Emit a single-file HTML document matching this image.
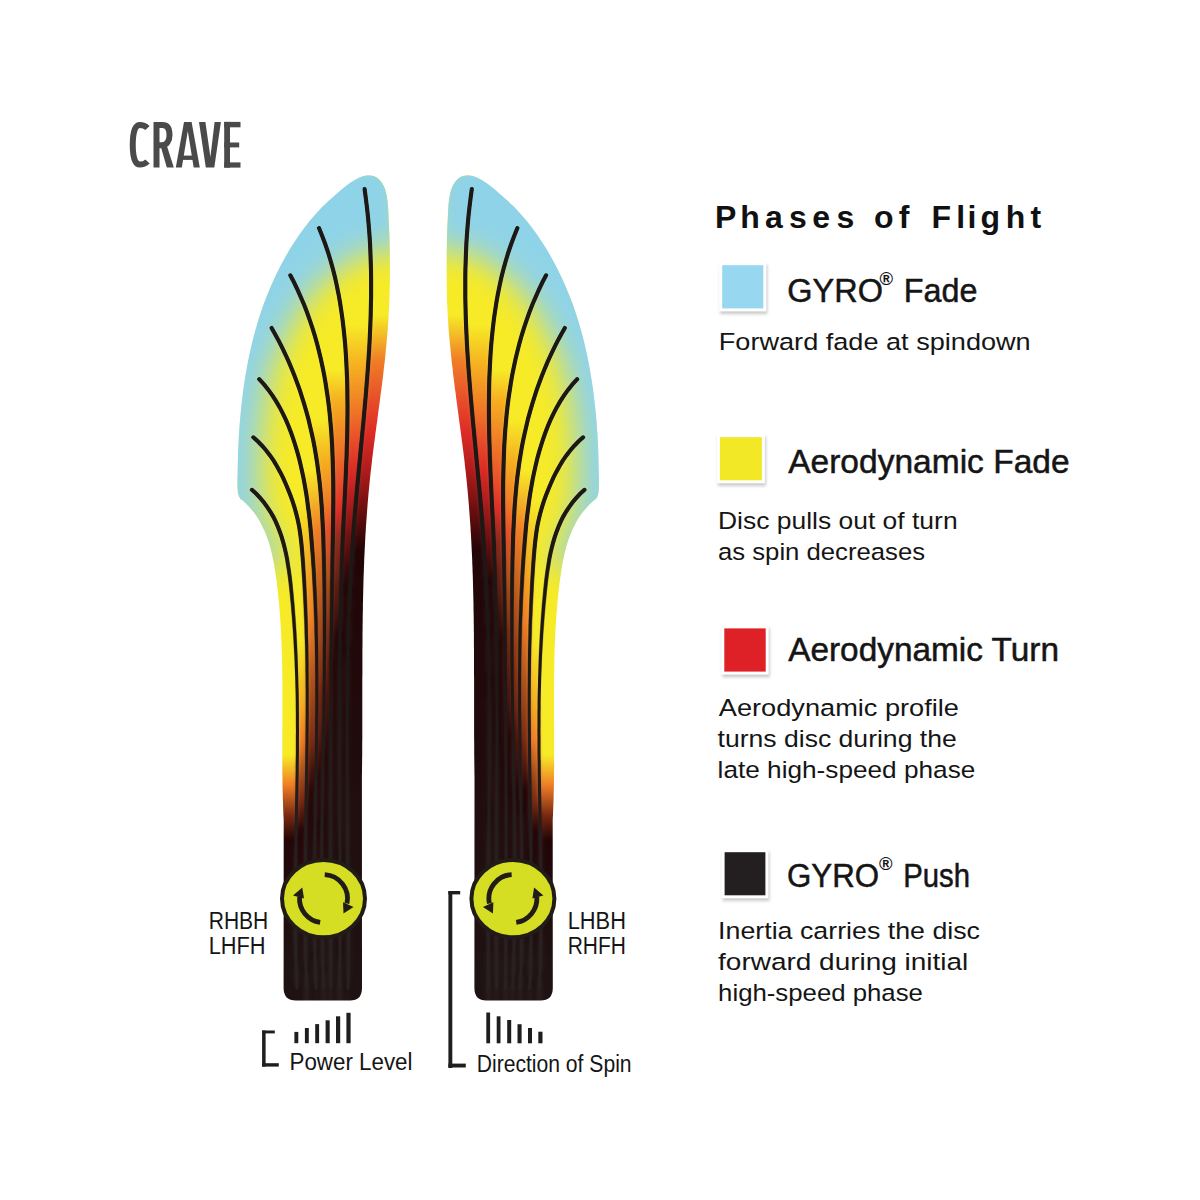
<!DOCTYPE html>
<html><head><meta charset="utf-8">
<style>
html,body{margin:0;padding:0;background:#fff;}
body{width:1200px;height:1200px;overflow:hidden;position:relative;font-family:"Liberation Sans",sans-serif;}
svg{position:absolute;left:0;top:0;}
</style></head>
<body>
<svg width="1200" height="1200" viewBox="0 0 1200 1200">
<defs>
  <clipPath id="clipL"><path d="M362,988 L361.9,780.0 L361.9,775.9 L362.0,771.9 L362.0,767.8 L362.1,763.7 L362.1,759.6 L362.2,755.5 L362.2,751.4 L362.2,747.3 L362.2,743.2 L362.3,739.2 L362.3,735.1 L362.3,731.0 L362.3,726.9 L362.3,722.8 L362.3,718.7 L362.3,714.7 L362.3,710.6 L362.3,706.5 L362.3,702.4 L362.3,698.3 L362.3,694.3 L362.3,690.2 L362.3,686.1 L362.3,682.0 L362.3,677.9 L362.4,673.9 L362.4,669.8 L362.4,665.7 L362.4,661.6 L362.4,657.6 L362.4,653.5 L362.4,649.4 L362.5,645.3 L362.5,641.3 L362.5,637.2 L362.5,633.1 L362.6,629.1 L362.6,625.0 L362.7,620.9 L362.7,616.8 L362.8,612.8 L362.9,608.7 L362.9,604.6 L363.0,600.5 L363.1,596.5 L363.2,592.4 L363.3,588.3 L363.4,584.3 L363.5,580.2 L363.6,576.1 L363.8,572.1 L363.9,568.0 L364.1,563.9 L364.2,559.8 L364.4,555.8 L364.6,551.7 L364.8,547.6 L365.0,543.6 L365.2,539.5 L365.4,535.4 L365.7,531.4 L365.9,527.3 L366.2,523.2 L366.5,519.2 L366.8,515.1 L367.1,511.0 L367.4,506.9 L367.7,502.9 L368.1,498.8 L368.4,494.7 L368.8,490.7 L369.2,486.6 L369.6,482.5 L370.0,478.5 L370.4,474.4 L370.9,470.3 L371.4,466.3 L371.8,462.2 L372.3,458.1 L372.8,454.0 L373.3,450.0 L373.8,445.9 L374.4,441.8 L374.9,437.8 L375.4,433.7 L376.0,429.6 L376.5,425.6 L377.1,421.5 L377.6,417.5 L378.1,413.4 L378.7,409.3 L379.2,405.3 L379.8,401.2 L380.3,397.2 L380.8,393.1 L381.4,389.1 L381.9,385.0 L382.4,381.0 L382.9,376.9 L383.4,372.9 L383.8,368.8 L384.3,364.8 L384.8,360.7 L385.2,356.7 L385.6,352.7 L386.0,348.6 L386.4,344.6 L386.8,340.6 L387.1,336.6 L387.5,332.6 L387.8,328.5 L388.1,324.5 L388.3,320.5 L388.6,316.5 L388.8,312.5 L389.0,308.5 L389.2,304.4 L389.4,300.4 L389.5,296.4 L389.6,292.4 L389.7,288.3 L389.8,284.3 L389.9,280.2 L389.9,276.2 L390.0,272.1 L390.0,268.0 L390.0,263.9 L389.9,259.8 L389.9,255.7 L389.8,251.6 L389.7,247.5 L389.6,243.3 L389.5,239.2 L389.4,235.0 L389.2,230.8 L389.0,226.6 L388.8,222.3 L388.6,218.1 L388.4,213.8 L388.2,209.5 L387.9,205.2 L387.5,201.0 L386.9,196.8 L386.1,192.9 L385.0,189.1 L383.6,185.7 L381.7,182.5 L379.4,179.8 L376.7,177.6 L373.6,176.1 L370.2,175.4 L366.6,175.5 L362.8,176.3 L358.9,177.7 L355.1,179.7 L351.4,181.9 L347.8,184.5 L344.3,187.2 L340.9,190.1 L337.6,192.9 L334.4,195.7 L331.4,198.4 L328.4,201.1 L325.5,203.9 L322.6,206.6 L319.8,209.5 L317.1,212.4 L314.4,215.4 L311.8,218.4 L309.2,221.5 L306.7,224.7 L304.2,228.0 L301.8,231.2 L299.4,234.6 L297.1,237.9 L294.8,241.4 L292.6,244.8 L290.4,248.3 L288.3,251.8 L286.3,255.3 L284.3,258.9 L282.3,262.5 L280.4,266.1 L278.6,269.7 L276.7,273.4 L275.0,277.0 L273.3,280.7 L271.6,284.4 L270.0,288.2 L268.5,291.9 L266.9,295.7 L265.5,299.5 L264.0,303.3 L262.7,307.1 L261.3,311.0 L260.1,314.8 L258.8,318.7 L257.6,322.6 L256.5,326.5 L255.3,330.4 L254.3,334.3 L253.2,338.3 L252.2,342.2 L251.3,346.2 L250.4,350.2 L249.5,354.1 L248.7,358.1 L247.9,362.1 L247.1,366.1 L246.4,370.1 L245.7,374.2 L245.0,378.2 L244.4,382.2 L243.8,386.3 L243.2,390.3 L242.7,394.4 L242.2,398.4 L241.7,402.5 L241.3,406.6 L240.9,410.6 L240.5,414.7 L240.1,418.8 L239.8,422.9 L239.5,427.0 L239.2,431.0 L238.9,435.1 L238.7,439.2 L238.5,443.3 L238.3,447.3 L238.1,451.4 L238.0,455.5 L237.9,459.6 L237.8,463.6 L237.7,467.7 L237.6,471.7 L237.5,475.8 L237.5,479.8 L237.5,483.9 L237.6,488.0 L237.9,492.5 L239.0,496.5 L240.5,499.0 L242.5,500.2 L246.8,504.2 L250.7,508.4 L254.2,512.8 L257.4,517.3 L260.2,522.0 L262.7,526.9 L265.0,531.8 L267.0,536.9 L268.8,542.1 L270.4,547.4 L271.7,552.8 L272.9,558.2 L274.0,563.7 L274.9,569.2 L275.7,574.8 L276.5,580.3 L277.2,585.9 L277.8,591.5 L278.4,597.0 L279.0,602.6 L279.4,608.2 L279.9,613.8 L280.3,619.3 L280.6,624.9 L281.0,630.5 L281.2,636.0 L281.5,641.6 L281.7,647.2 L281.9,652.8 L282.0,658.4 L282.1,663.9 L282.2,669.5 L282.3,675.1 L282.4,680.7 L282.4,686.2 L282.4,691.8 L282.4,697.4 L282.4,703.0 L282.4,708.6 L282.4,714.1 L282.4,719.7 L282.4,725.3 L282.3,730.9 L282.3,736.4 L282.3,742.0 L282.3,747.6 L282.3,753.2 L282.3,758.7 L282.3,764.3 L282.3,769.9 L282.4,775.4 L282.5,781.0 L282.5,786.6 L282.7,792.2 L282.8,797.7 L283.0,803.3 L283.2,808.8 L283.4,814.4 L283.7,820.0 L283.6,988 Q283.6,1000.5 296,1000.5 L350,1000.5 Q362,1000.5 362,988 Z"/></clipPath>
  <linearGradient id="Lg0" gradientUnits="userSpaceOnUse" x1="0" y1="170" x2="0" y2="1000"><stop offset="0.1747" stop-color="#f7eb27"/><stop offset="0.2289" stop-color="#f07e26"/><stop offset="0.2747" stop-color="#e8502a"/><stop offset="0.3157" stop-color="#dd2c26"/><stop offset="0.3614" stop-color="#b01c1c"/><stop offset="0.4096" stop-color="#6b0e0e"/><stop offset="0.4578" stop-color="#220507"/><stop offset="0.9518" stop-color="#1f1212"/></linearGradient><linearGradient id="Lg1" gradientUnits="userSpaceOnUse" x1="0" y1="170" x2="0" y2="1000"><stop offset="0.1867" stop-color="#f7eb27"/><stop offset="0.2349" stop-color="#f5b020"/><stop offset="0.2831" stop-color="#f07e26"/><stop offset="0.3229" stop-color="#e8502a"/><stop offset="0.3590" stop-color="#dd2c26"/><stop offset="0.3976" stop-color="#b01c1c"/><stop offset="0.4458" stop-color="#6b0e0e"/><stop offset="0.4940" stop-color="#220507"/><stop offset="0.9518" stop-color="#1f1212"/></linearGradient><linearGradient id="Lg2" gradientUnits="userSpaceOnUse" x1="0" y1="170" x2="0" y2="1000"><stop offset="0.2410" stop-color="#f7eb27"/><stop offset="0.2771" stop-color="#f5b020"/><stop offset="0.3253" stop-color="#f07e26"/><stop offset="0.3735" stop-color="#e8502a"/><stop offset="0.4096" stop-color="#dd2c26"/><stop offset="0.4458" stop-color="#8a2a1a"/><stop offset="0.5060" stop-color="#5a1a10"/><stop offset="0.5663" stop-color="#220507"/><stop offset="0.9518" stop-color="#1f1212"/></linearGradient><linearGradient id="Lg3" gradientUnits="userSpaceOnUse" x1="0" y1="170" x2="0" y2="1000"><stop offset="0.3012" stop-color="#f7eb27"/><stop offset="0.3494" stop-color="#f5b020"/><stop offset="0.3976" stop-color="#f07e26"/><stop offset="0.4337" stop-color="#e8502a"/><stop offset="0.4880" stop-color="#b0501a"/><stop offset="0.5542" stop-color="#7a2a10"/><stop offset="0.6265" stop-color="#4a1008"/><stop offset="0.6867" stop-color="#220507"/><stop offset="0.9518" stop-color="#1f1212"/></linearGradient><linearGradient id="Lg4" gradientUnits="userSpaceOnUse" x1="0" y1="170" x2="0" y2="1000"><stop offset="0.3614" stop-color="#f7eb27"/><stop offset="0.4337" stop-color="#f07e26"/><stop offset="0.5301" stop-color="#b0501a"/><stop offset="0.6145" stop-color="#7a2a10"/><stop offset="0.6867" stop-color="#4a1008"/><stop offset="0.7349" stop-color="#220507"/><stop offset="0.9518" stop-color="#1f1212"/></linearGradient><linearGradient id="Lg5" gradientUnits="userSpaceOnUse" x1="0" y1="170" x2="0" y2="1000"><stop offset="0.3976" stop-color="#f7eb27"/><stop offset="0.4699" stop-color="#f5b020"/><stop offset="0.5422" stop-color="#f07e26"/><stop offset="0.6145" stop-color="#b0501a"/><stop offset="0.6867" stop-color="#7a2a10"/><stop offset="0.7470" stop-color="#220507"/><stop offset="0.9518" stop-color="#1f1212"/></linearGradient><linearGradient id="Lg6" gradientUnits="userSpaceOnUse" x1="0" y1="170" x2="0" y2="1000"><stop offset="0.5663" stop-color="#f7eb27"/><stop offset="0.6386" stop-color="#f5b020"/><stop offset="0.6867" stop-color="#f07e26"/><stop offset="0.7229" stop-color="#b0501a"/><stop offset="0.7590" stop-color="#7a2a10"/><stop offset="0.7952" stop-color="#220507"/><stop offset="0.9518" stop-color="#1f1212"/></linearGradient><linearGradient id="Lg7" gradientUnits="userSpaceOnUse" x1="0" y1="170" x2="0" y2="1000"><stop offset="0.7048" stop-color="#f7eb27"/><stop offset="0.7410" stop-color="#f07e26"/><stop offset="0.7771" stop-color="#7a2a10"/><stop offset="0.8072" stop-color="#220507"/><stop offset="0.9518" stop-color="#1f1212"/></linearGradient>
  <linearGradient id="lmg" gradientUnits="userSpaceOnUse" x1="0" y1="540" x2="0" y2="680"><stop offset="0" stop-color="#fff"/><stop offset="1" stop-color="#000"/></linearGradient>
  <mask id="lm" maskUnits="userSpaceOnUse" x="0" y="0" width="1200" height="1200"><rect x="0" y="0" width="1200" height="1200" fill="url(#lmg)"/></mask>
  <linearGradient id="lg" gradientUnits="userSpaceOnUse" x1="0" y1="170" x2="0" y2="1000"><stop offset="0.6" stop-color="#1e1815"/><stop offset="0.9" stop-color="#292121"/></linearGradient>
  <filter id="b2" color-interpolation-filters="sRGB" x="-10%" y="-10%" width="120%" height="120%"><feGaussianBlur stdDeviation="2"/></filter>
  <filter id="b12" color-interpolation-filters="sRGB" x="-50%" y="-50%" width="200%" height="200%"><feGaussianBlur stdDeviation="15"/></filter>
  <filter id="sh" color-interpolation-filters="sRGB" x="-30%" y="-30%" width="160%" height="160%"><feDropShadow dx="1" dy="2.5" stdDeviation="1.6" flood-color="#000" flood-opacity="0.22"/></filter>
</defs>
<g id="left">
  <g clip-path="url(#clipL)">
    <g filter="url(#b2)"><polygon points="362.0,176.0 364.6,189.1 365.8,198.1 366.9,207.0 367.9,216.0 368.7,225.0 369.4,233.9 370.0,242.9 370.4,251.9 370.7,260.8 371.0,269.8 371.1,278.8 371.1,287.7 371.1,296.7 370.9,305.6 370.7,314.6 370.4,323.6 370.0,332.5 369.6,341.5 369.1,350.4 368.5,359.4 367.9,368.3 367.2,377.3 366.5,386.3 365.8,395.2 365.0,404.2 364.2,413.1 363.4,422.1 362.5,431.1 361.7,440.0 360.8,449.0 360.0,457.9 359.1,466.9 358.3,475.9 357.4,484.8 356.6,493.8 355.8,502.8 355.0,511.7 354.3,520.7 353.6,529.7 353.0,538.6 352.3,547.6 351.8,556.6 351.2,565.6 350.8,574.5 350.3,583.5 349.9,592.5 349.5,601.5 349.1,610.4 348.8,619.4 348.5,628.4 348.3,637.4 348.1,646.4 347.9,655.3 347.7,664.3 347.5,673.3 347.4,682.3 347.3,691.3 347.2,700.3 347.1,709.3 347.1,718.2 347.1,727.2 347.1,736.2 347.1,745.2 347.1,754.2 347.1,763.2 347.1,772.2 347.2,781.2 347.2,790.2 347.3,799.2 347.4,808.1 347.4,817.1 347.5,826.1 347.6,835.1 347.7,844.1 347.8,853.1 347.8,862.1 347.9,871.1 348.0,880.1 348.0,889.1 348.1,898.1 348.2,907.1 348.2,916.1 348.2,925.1 348.2,934.1 348.3,943.0 348.2,952.0 348.2,961.0 348.2,970.0 348.1,979.0 348.0,988.0 347.8,1012.0 420.0,1010.0 420.0,160.0 362.0,160.0" fill="url(#Lg0)"/>
<polygon points="362.0,176.0 364.6,189.1 365.8,198.1 366.9,207.0 367.9,216.0 368.7,225.0 369.4,233.9 370.0,242.9 370.4,251.9 370.7,260.8 371.0,269.8 371.1,278.8 371.1,287.7 371.1,296.7 370.9,305.6 370.7,314.6 370.4,323.6 370.0,332.5 369.6,341.5 369.1,350.4 368.5,359.4 367.9,368.3 367.2,377.3 366.5,386.3 365.8,395.2 365.0,404.2 364.2,413.1 363.4,422.1 362.5,431.1 361.7,440.0 360.8,449.0 360.0,457.9 359.1,466.9 358.3,475.9 357.4,484.8 356.6,493.8 355.8,502.8 355.0,511.7 354.3,520.7 353.6,529.7 353.0,538.6 352.3,547.6 351.8,556.6 351.2,565.6 350.8,574.5 350.3,583.5 349.9,592.5 349.5,601.5 349.1,610.4 348.8,619.4 348.5,628.4 348.3,637.4 348.1,646.4 347.9,655.3 347.7,664.3 347.5,673.3 347.4,682.3 347.3,691.3 347.2,700.3 347.1,709.3 347.1,718.2 347.1,727.2 347.1,736.2 347.1,745.2 347.1,754.2 347.1,763.2 347.1,772.2 347.2,781.2 347.2,790.2 347.3,799.2 347.4,808.1 347.4,817.1 347.5,826.1 347.6,835.1 347.7,844.1 347.8,853.1 347.8,862.1 347.9,871.1 348.0,880.1 348.0,889.1 348.1,898.1 348.2,907.1 348.2,916.1 348.2,925.1 348.2,934.1 348.3,943.0 348.2,952.0 348.2,961.0 348.2,970.0 348.1,979.0 348.0,988.0 347.8,1012.0 339.6,1012.0 339.6,988.0 339.7,979.4 339.8,970.8 339.9,962.2 340.0,953.6 340.0,945.0 340.1,936.4 340.1,927.8 340.1,919.2 340.1,910.6 340.1,902.0 340.1,893.4 340.1,884.9 340.1,876.3 340.1,867.7 340.0,859.1 340.0,850.6 339.9,842.0 339.9,833.4 339.8,824.8 339.8,816.3 339.7,807.7 339.7,799.1 339.6,790.6 339.6,782.0 339.6,773.5 339.5,764.9 339.5,756.3 339.5,747.8 339.4,739.2 339.4,730.7 339.4,722.1 339.4,713.5 339.4,705.0 339.5,696.4 339.5,687.8 339.5,679.3 339.6,670.7 339.7,662.2 339.8,653.6 339.9,645.0 340.0,636.5 340.1,627.9 340.3,619.3 340.5,610.7 340.6,602.2 340.9,593.6 341.1,585.0 341.4,576.4 341.6,567.8 342.0,559.2 342.3,550.7 342.6,542.1 343.0,533.5 343.4,524.9 343.8,516.3 344.3,507.7 344.7,499.1 345.1,490.5 345.5,481.9 345.9,473.3 346.2,464.7 346.6,456.1 346.8,447.5 347.1,438.9 347.3,430.3 347.4,421.7 347.5,413.1 347.5,404.6 347.4,396.0 347.3,387.5 347.1,378.9 346.7,370.4 346.3,361.8 345.8,353.3 345.2,344.8 344.4,336.3 343.5,327.8 342.5,319.3 341.3,310.9 340.0,302.4 338.5,294.0 336.8,285.6 335.0,277.3 332.9,269.0 330.6,260.7 328.1,252.5 325.3,244.3 322.3,236.2 319.0,228.1 314.3,216.0" fill="url(#Lg1)"/>
<polygon points="314.3,216.0 319.0,228.1 322.3,236.2 325.3,244.3 328.1,252.5 330.6,260.7 332.9,269.0 335.0,277.3 336.8,285.6 338.5,294.0 340.0,302.4 341.3,310.9 342.5,319.3 343.5,327.8 344.4,336.3 345.2,344.8 345.8,353.3 346.3,361.8 346.7,370.4 347.1,378.9 347.3,387.5 347.4,396.0 347.5,404.6 347.5,413.1 347.4,421.7 347.3,430.3 347.1,438.9 346.8,447.5 346.6,456.1 346.2,464.7 345.9,473.3 345.5,481.9 345.1,490.5 344.7,499.1 344.3,507.7 343.8,516.3 343.4,524.9 343.0,533.5 342.6,542.1 342.3,550.7 342.0,559.2 341.6,567.8 341.4,576.4 341.1,585.0 340.9,593.6 340.6,602.2 340.5,610.7 340.3,619.3 340.1,627.9 340.0,636.5 339.9,645.0 339.8,653.6 339.7,662.2 339.6,670.7 339.5,679.3 339.5,687.8 339.5,696.4 339.4,705.0 339.4,713.5 339.4,722.1 339.4,730.7 339.4,739.2 339.5,747.8 339.5,756.3 339.5,764.9 339.6,773.5 339.6,782.0 339.6,790.6 339.7,799.1 339.7,807.7 339.8,816.3 339.8,824.8 339.9,833.4 339.9,842.0 340.0,850.6 340.0,859.1 340.1,867.7 340.1,876.3 340.1,884.9 340.1,893.4 340.1,902.0 340.1,910.6 340.1,919.2 340.1,927.8 340.1,936.4 340.0,945.0 340.0,953.6 339.9,962.2 339.8,970.8 339.7,979.4 339.6,988.0 339.6,1012.0 330.7,1012.0 330.8,988.0 330.7,979.9 330.7,971.8 330.7,963.7 330.6,955.6 330.6,947.5 330.6,939.4 330.5,931.4 330.5,923.3 330.5,915.2 330.5,907.1 330.4,899.0 330.4,890.9 330.4,882.9 330.4,874.8 330.4,866.7 330.4,858.6 330.3,850.6 330.3,842.5 330.3,834.4 330.3,826.3 330.3,818.3 330.3,810.2 330.3,802.1 330.4,794.0 330.4,786.0 330.4,777.9 330.4,769.8 330.4,761.8 330.5,753.7 330.5,745.6 330.5,737.5 330.6,729.5 330.6,721.4 330.7,713.3 330.7,705.3 330.8,697.2 330.8,689.1 330.9,681.0 331.0,673.0 331.0,664.9 331.1,656.8 331.2,648.8 331.3,640.7 331.4,632.6 331.5,624.5 331.6,616.4 331.7,608.4 331.8,600.3 331.9,592.2 332.0,584.1 332.2,576.0 332.3,568.0 332.4,559.9 332.6,551.8 332.7,543.7 332.9,535.6 333.0,527.5 333.1,519.4 333.2,511.3 333.3,503.2 333.3,495.2 333.3,487.1 333.2,479.0 333.0,470.9 332.8,462.9 332.5,454.8 332.2,446.7 331.7,438.7 331.2,430.6 330.5,422.6 329.8,414.6 328.9,406.6 327.9,398.5 326.7,390.6 325.5,382.6 324.1,374.6 322.5,366.7 320.8,358.8 318.9,350.9 316.9,343.1 314.7,335.3 312.3,327.6 309.7,319.9 307.0,312.3 304.1,304.7 300.9,297.3 297.6,289.9 294.1,282.5 290.3,275.3 283.5,262.0" fill="url(#Lg2)"/>
<polygon points="283.5,262.0 290.3,275.3 294.1,282.5 297.6,289.9 300.9,297.3 304.1,304.7 307.0,312.3 309.7,319.9 312.3,327.6 314.7,335.3 316.9,343.1 318.9,350.9 320.8,358.8 322.5,366.7 324.1,374.6 325.5,382.6 326.7,390.6 327.9,398.5 328.9,406.6 329.8,414.6 330.5,422.6 331.2,430.6 331.7,438.7 332.2,446.7 332.5,454.8 332.8,462.9 333.0,470.9 333.2,479.0 333.3,487.1 333.3,495.2 333.3,503.2 333.2,511.3 333.1,519.4 333.0,527.5 332.9,535.6 332.7,543.7 332.6,551.8 332.4,559.9 332.3,568.0 332.2,576.0 332.0,584.1 331.9,592.2 331.8,600.3 331.7,608.4 331.6,616.4 331.5,624.5 331.4,632.6 331.3,640.7 331.2,648.8 331.1,656.8 331.0,664.9 331.0,673.0 330.9,681.0 330.8,689.1 330.8,697.2 330.7,705.3 330.7,713.3 330.6,721.4 330.6,729.5 330.5,737.5 330.5,745.6 330.5,753.7 330.4,761.8 330.4,769.8 330.4,777.9 330.4,786.0 330.4,794.0 330.3,802.1 330.3,810.2 330.3,818.3 330.3,826.3 330.3,834.4 330.3,842.5 330.3,850.6 330.4,858.6 330.4,866.7 330.4,874.8 330.4,882.9 330.4,890.9 330.4,899.0 330.5,907.1 330.5,915.2 330.5,923.3 330.5,931.4 330.6,939.4 330.6,947.5 330.6,955.6 330.7,963.7 330.7,971.8 330.7,979.9 330.8,988.0 330.7,1012.0 323.6,1012.0 323.7,988.0 323.4,980.5 323.1,973.0 322.9,965.4 322.6,957.9 322.5,950.4 322.3,942.9 322.1,935.4 322.0,927.9 321.9,920.4 321.8,912.8 321.8,905.3 321.7,897.8 321.7,890.3 321.7,882.8 321.7,875.3 321.7,867.8 321.7,860.3 321.8,852.8 321.8,845.3 321.9,837.8 321.9,830.3 322.0,822.7 322.1,815.2 322.2,807.7 322.3,800.2 322.4,792.7 322.6,785.2 322.7,777.7 322.8,770.2 322.9,762.7 323.0,755.2 323.2,747.7 323.3,740.2 323.4,732.7 323.5,725.2 323.7,717.7 323.8,710.2 323.9,702.7 324.0,695.1 324.1,687.6 324.2,680.1 324.3,672.6 324.3,665.1 324.4,657.6 324.4,650.1 324.5,642.6 324.5,635.1 324.5,627.6 324.5,620.0 324.5,612.5 324.5,605.0 324.4,597.5 324.4,590.0 324.3,582.5 324.2,574.9 324.0,567.4 323.9,559.9 323.7,552.4 323.5,544.9 323.3,537.3 323.0,529.8 322.6,522.3 322.2,514.8 321.8,507.3 321.2,499.8 320.6,492.4 319.9,484.9 319.1,477.5 318.1,470.0 317.1,462.6 315.9,455.2 314.7,447.9 313.3,440.5 311.7,433.2 310.0,425.9 308.3,418.6 306.3,411.4 304.2,404.2 302.0,397.1 299.7,389.9 297.2,382.9 294.5,375.8 291.7,368.8 288.8,361.9 285.7,355.0 282.4,348.2 279.0,341.4 275.4,334.7 271.6,328.0 262.0,305.0" fill="url(#Lg3)"/>
<polygon points="262.0,305.0 271.6,328.0 275.4,334.7 279.0,341.4 282.4,348.2 285.7,355.0 288.8,361.9 291.7,368.8 294.5,375.8 297.2,382.9 299.7,389.9 302.0,397.1 304.2,404.2 306.3,411.4 308.3,418.6 310.0,425.9 311.7,433.2 313.3,440.5 314.7,447.9 315.9,455.2 317.1,462.6 318.1,470.0 319.1,477.5 319.9,484.9 320.6,492.4 321.2,499.8 321.8,507.3 322.2,514.8 322.6,522.3 323.0,529.8 323.3,537.3 323.5,544.9 323.7,552.4 323.9,559.9 324.0,567.4 324.2,574.9 324.3,582.5 324.4,590.0 324.4,597.5 324.5,605.0 324.5,612.5 324.5,620.0 324.5,627.6 324.5,635.1 324.5,642.6 324.4,650.1 324.4,657.6 324.3,665.1 324.3,672.6 324.2,680.1 324.1,687.6 324.0,695.1 323.9,702.7 323.8,710.2 323.7,717.7 323.5,725.2 323.4,732.7 323.3,740.2 323.2,747.7 323.0,755.2 322.9,762.7 322.8,770.2 322.7,777.7 322.6,785.2 322.4,792.7 322.3,800.2 322.2,807.7 322.1,815.2 322.0,822.7 321.9,830.3 321.9,837.8 321.8,845.3 321.8,852.8 321.7,860.3 321.7,867.8 321.7,875.3 321.7,882.8 321.7,890.3 321.7,897.8 321.8,905.3 321.8,912.8 321.9,920.4 322.0,927.9 322.1,935.4 322.3,942.9 322.5,950.4 322.6,957.9 322.9,965.4 323.1,973.0 323.4,980.5 323.7,988.0 323.6,1012.0 316.0,1012.0 316.1,988.0 315.8,981.0 315.5,974.0 315.3,967.1 315.1,960.1 315.0,953.1 314.8,946.1 314.7,939.2 314.6,932.2 314.5,925.2 314.5,918.2 314.4,911.3 314.4,904.3 314.4,897.3 314.4,890.3 314.4,883.4 314.5,876.4 314.5,869.4 314.6,862.4 314.7,855.5 314.7,848.5 314.8,841.5 314.9,834.6 315.0,827.6 315.1,820.6 315.3,813.7 315.4,806.7 315.5,799.7 315.6,792.8 315.7,785.8 315.9,778.8 316.0,771.9 316.1,764.9 316.2,757.9 316.3,751.0 316.4,744.0 316.5,737.0 316.6,730.1 316.6,723.1 316.7,716.1 316.8,709.2 316.8,702.2 316.8,695.3 316.8,688.3 316.8,681.3 316.8,674.4 316.7,667.4 316.7,660.4 316.6,653.5 316.5,646.5 316.4,639.5 316.2,632.6 316.1,625.6 315.9,618.6 315.6,611.7 315.4,604.7 315.1,597.7 314.8,590.8 314.4,583.8 314.1,576.8 313.7,569.9 313.2,562.9 312.8,555.9 312.2,549.0 311.7,542.0 311.1,535.0 310.5,528.0 309.8,521.1 309.0,514.1 308.1,507.2 307.2,500.3 306.2,493.4 305.0,486.5 303.8,479.7 302.4,472.9 300.9,466.1 299.3,459.3 297.5,452.6 295.5,446.0 293.4,439.4 291.1,432.8 288.6,426.3 285.9,419.9 282.9,413.6 279.7,407.4 276.2,401.4 272.5,395.6 268.4,389.9 264.0,384.4 259.2,379.2 249.0,362.0" fill="url(#Lg4)"/>
<polygon points="249.0,362.0 259.2,379.2 264.0,384.4 268.4,389.9 272.5,395.6 276.2,401.4 279.7,407.4 282.9,413.6 285.9,419.9 288.6,426.3 291.1,432.8 293.4,439.4 295.5,446.0 297.5,452.6 299.3,459.3 300.9,466.1 302.4,472.9 303.8,479.7 305.0,486.5 306.2,493.4 307.2,500.3 308.1,507.2 309.0,514.1 309.8,521.1 310.5,528.0 311.1,535.0 311.7,542.0 312.2,549.0 312.8,555.9 313.2,562.9 313.7,569.9 314.1,576.8 314.4,583.8 314.8,590.8 315.1,597.7 315.4,604.7 315.6,611.7 315.9,618.6 316.1,625.6 316.2,632.6 316.4,639.5 316.5,646.5 316.6,653.5 316.7,660.4 316.7,667.4 316.8,674.4 316.8,681.3 316.8,688.3 316.8,695.3 316.8,702.2 316.8,709.2 316.7,716.1 316.6,723.1 316.6,730.1 316.5,737.0 316.4,744.0 316.3,751.0 316.2,757.9 316.1,764.9 316.0,771.9 315.9,778.8 315.7,785.8 315.6,792.8 315.5,799.7 315.4,806.7 315.3,813.7 315.1,820.6 315.0,827.6 314.9,834.6 314.8,841.5 314.7,848.5 314.7,855.5 314.6,862.4 314.5,869.4 314.5,876.4 314.4,883.4 314.4,890.3 314.4,897.3 314.4,904.3 314.4,911.3 314.5,918.2 314.5,925.2 314.6,932.2 314.7,939.2 314.8,946.1 315.0,953.1 315.1,960.1 315.3,967.1 315.5,974.0 315.8,981.0 316.1,988.0 316.0,1012.0 306.6,1012.0 306.6,988.0 306.4,981.7 306.2,975.4 306.0,969.0 305.9,962.7 305.7,956.4 305.6,950.1 305.5,943.7 305.4,937.4 305.3,931.1 305.3,924.7 305.2,918.4 305.2,912.1 305.2,905.7 305.2,899.4 305.2,893.1 305.2,886.7 305.2,880.4 305.3,874.0 305.3,867.7 305.4,861.4 305.4,855.0 305.5,848.7 305.6,842.3 305.7,836.0 305.8,829.6 305.8,823.3 305.9,817.0 306.0,810.6 306.1,804.3 306.2,797.9 306.3,791.6 306.4,785.2 306.5,778.9 306.6,772.5 306.7,766.2 306.8,759.8 306.8,753.5 306.9,747.2 307.0,740.8 307.0,734.5 307.1,728.1 307.1,721.8 307.2,715.4 307.2,709.1 307.2,702.8 307.2,696.4 307.2,690.1 307.1,683.7 307.1,677.4 307.0,671.1 307.0,664.7 306.9,658.4 306.8,652.1 306.7,645.7 306.5,639.4 306.3,633.1 306.2,626.7 306.0,620.4 305.7,614.1 305.5,607.7 305.2,601.4 304.9,595.1 304.6,588.8 304.3,582.5 303.9,576.1 303.5,569.8 303.1,563.5 302.6,557.2 302.1,550.9 301.5,544.6 300.8,538.3 300.0,532.1 299.0,525.8 297.7,519.6 296.2,513.5 294.5,507.4 292.6,501.3 290.4,495.3 288.1,489.4 285.6,483.5 283.0,477.6 280.1,471.9 277.1,466.4 273.8,460.9 270.2,455.7 266.4,450.7 262.3,446.0 258.0,441.5 253.3,437.3 239.3,423.0" fill="url(#Lg5)"/>
<polygon points="239.3,423.0 253.3,437.3 258.0,441.5 262.3,446.0 266.4,450.7 270.2,455.7 273.8,460.9 277.1,466.4 280.1,471.9 283.0,477.6 285.6,483.5 288.1,489.4 290.4,495.3 292.6,501.3 294.5,507.4 296.2,513.5 297.7,519.6 299.0,525.8 300.0,532.1 300.8,538.3 301.5,544.6 302.1,550.9 302.6,557.2 303.1,563.5 303.5,569.8 303.9,576.1 304.3,582.5 304.6,588.8 304.9,595.1 305.2,601.4 305.5,607.7 305.7,614.1 306.0,620.4 306.2,626.7 306.3,633.1 306.5,639.4 306.7,645.7 306.8,652.1 306.9,658.4 307.0,664.7 307.0,671.1 307.1,677.4 307.1,683.7 307.2,690.1 307.2,696.4 307.2,702.8 307.2,709.1 307.2,715.4 307.1,721.8 307.1,728.1 307.0,734.5 307.0,740.8 306.9,747.2 306.8,753.5 306.8,759.8 306.7,766.2 306.6,772.5 306.5,778.9 306.4,785.2 306.3,791.6 306.2,797.9 306.1,804.3 306.0,810.6 305.9,817.0 305.8,823.3 305.8,829.6 305.7,836.0 305.6,842.3 305.5,848.7 305.4,855.0 305.4,861.4 305.3,867.7 305.3,874.0 305.2,880.4 305.2,886.7 305.2,893.1 305.2,899.4 305.2,905.7 305.2,912.1 305.2,918.4 305.3,924.7 305.3,931.1 305.4,937.4 305.5,943.7 305.6,950.1 305.7,956.4 305.9,962.7 306.0,969.0 306.2,975.4 306.4,981.7 306.6,988.0 306.6,1012.0 297.0,1012.0 297.0,988.0 296.8,982.3 296.5,976.5 296.3,970.8 296.1,965.1 296.0,959.3 295.8,953.6 295.7,947.9 295.6,942.2 295.5,936.4 295.4,930.7 295.4,925.0 295.3,919.3 295.3,913.6 295.3,907.8 295.3,902.1 295.3,896.4 295.4,890.7 295.4,885.0 295.5,879.3 295.5,873.6 295.6,867.8 295.7,862.1 295.8,856.4 295.8,850.7 295.9,845.0 296.0,839.3 296.1,833.6 296.2,827.9 296.3,822.2 296.4,816.5 296.5,810.8 296.6,805.1 296.7,799.4 296.8,793.7 296.9,788.0 297.0,782.2 297.1,776.5 297.2,770.8 297.2,765.1 297.3,759.4 297.4,753.7 297.4,748.0 297.4,742.3 297.4,736.6 297.5,730.9 297.4,725.2 297.4,719.5 297.4,713.7 297.3,708.0 297.3,702.3 297.2,696.6 297.1,690.9 296.9,685.2 296.8,679.4 296.6,673.7 296.4,668.0 296.2,662.3 296.0,656.6 295.7,650.8 295.4,645.1 295.1,639.4 294.8,633.6 294.4,627.9 294.0,622.2 293.6,616.4 293.1,610.7 292.7,605.0 292.1,599.2 291.6,593.5 291.0,587.7 290.4,582.0 289.7,576.3 288.9,570.5 288.0,564.9 287.1,559.2 286.0,553.6 284.7,548.1 283.3,542.6 281.7,537.2 279.9,531.9 277.9,526.7 275.7,521.6 273.2,516.6 270.4,511.8 267.3,507.1 264.0,502.5 260.3,498.1 256.3,493.8 251.9,489.8 238.0,477.0" fill="url(#Lg6)"/>
<polygon points="238.0,477.0 251.9,489.8 256.3,493.8 260.3,498.1 264.0,502.5 267.3,507.1 270.4,511.8 273.2,516.6 275.7,521.6 277.9,526.7 279.9,531.9 281.7,537.2 283.3,542.6 284.7,548.1 286.0,553.6 287.1,559.2 288.0,564.9 288.9,570.5 289.7,576.3 290.4,582.0 291.0,587.7 291.6,593.5 292.1,599.2 292.7,605.0 293.1,610.7 293.6,616.4 294.0,622.2 294.4,627.9 294.8,633.6 295.1,639.4 295.4,645.1 295.7,650.8 296.0,656.6 296.2,662.3 296.4,668.0 296.6,673.7 296.8,679.4 296.9,685.2 297.1,690.9 297.2,696.6 297.3,702.3 297.3,708.0 297.4,713.7 297.4,719.5 297.4,725.2 297.5,730.9 297.4,736.6 297.4,742.3 297.4,748.0 297.4,753.7 297.3,759.4 297.2,765.1 297.2,770.8 297.1,776.5 297.0,782.2 296.9,788.0 296.8,793.7 296.7,799.4 296.6,805.1 296.5,810.8 296.4,816.5 296.3,822.2 296.2,827.9 296.1,833.6 296.0,839.3 295.9,845.0 295.8,850.7 295.8,856.4 295.7,862.1 295.6,867.8 295.5,873.6 295.5,879.3 295.4,885.0 295.4,890.7 295.3,896.4 295.3,902.1 295.3,907.8 295.3,913.6 295.3,919.3 295.4,925.0 295.4,930.7 295.5,936.4 295.6,942.2 295.7,947.9 295.8,953.6 296.0,959.3 296.1,965.1 296.3,970.8 296.5,976.5 296.8,982.3 297.0,988.0 297.0,1012.0 200.0,1010.0 200.0,470.0" fill="url(#Lg7)"/></g>
    <path d="M400.0,254.0 C395.3,253.5 379.2,250.2 372.0,251.0 C364.8,251.8 362.8,255.7 357.0,259.0 C351.2,262.3 343.7,266.0 337.0,271.0 C330.3,276.0 323.0,282.5 317.0,289.0 C311.0,295.5 305.8,302.5 301.0,310.0 C296.2,317.5 292.3,325.3 288.0,334.0 C283.7,342.7 278.5,351.8 275.0,362.0 C271.5,372.2 269.2,383.7 267.0,395.0 C264.8,406.3 263.2,418.3 262.0,430.0 C260.8,441.7 260.3,455.0 260.0,465.0 C259.7,475.0 259.3,481.7 260.0,490.0 C260.7,498.3 261.8,506.7 264.0,515.0 C266.2,523.3 269.3,531.7 273.0,540.0 C276.7,548.3 283.8,560.8 286.0,565.0 L200,575 L200,150 L410,150 L410,243 Z" fill="#8fd3e8" filter="url(#b12)"/>
  </g>
  <g fill="none" stroke="url(#lg)" stroke-width="3.1" stroke-linecap="round">
<path d="M364.6,189.1 L365.8,198.1 L366.9,207.0 L367.9,216.0 L368.7,225.0 L369.4,233.9 L370.0,242.9 L370.4,251.9 L370.7,260.8 L371.0,269.8 L371.1,278.8 L371.1,287.7 L371.1,296.7 L370.9,305.6 L370.7,314.6 L370.4,323.6 L370.0,332.5 L369.6,341.5 L369.1,350.4 L368.5,359.4 L367.9,368.3 L367.2,377.3 L366.5,386.3 L365.8,395.2 L365.0,404.2 L364.2,413.1 L363.4,422.1 L362.5,431.1 L361.7,440.0 L360.8,449.0 L360.0,457.9 L359.1,466.9 L358.3,475.9 L357.4,484.8 L356.6,493.8 L355.8,502.8 L355.0,511.7 L354.3,520.7 L353.6,529.7 L353.0,538.6 L352.3,547.6 L351.8,556.6 L351.2,565.6 L350.8,574.5 L350.3,583.5 L349.9,592.5 L349.5,601.5 L349.1,610.4 L348.8,619.4 L348.5,628.4 L348.3,637.4 L348.1,646.4 L347.9,655.3 L347.7,664.3 L347.5,673.3 L347.4,682.3 L347.3,691.3 L347.2,700.3 L347.1,709.3 L347.1,718.2 L347.1,727.2 L347.1,736.2 L347.1,745.2 L347.1,754.2 L347.1,763.2 L347.1,772.2 L347.2,781.2 L347.2,790.2 L347.3,799.2 L347.4,808.1 L347.4,817.1 L347.5,826.1 L347.6,835.1 L347.7,844.1 L347.8,853.1 L347.8,862.1 L347.9,871.1 L348.0,880.1 L348.0,889.1 L348.1,898.1 L348.2,907.1 L348.2,916.1 L348.2,925.1 L348.2,934.1 L348.3,943.0 L348.2,952.0 L348.2,961.0 L348.2,970.0 L348.1,979.0 L348.0,988.0"/>
<path d="M319.0,228.1 L322.3,236.2 L325.3,244.3 L328.1,252.5 L330.6,260.7 L332.9,269.0 L335.0,277.3 L336.8,285.6 L338.5,294.0 L340.0,302.4 L341.3,310.9 L342.5,319.3 L343.5,327.8 L344.4,336.3 L345.2,344.8 L345.8,353.3 L346.3,361.8 L346.7,370.4 L347.1,378.9 L347.3,387.5 L347.4,396.0 L347.5,404.6 L347.5,413.1 L347.4,421.7 L347.3,430.3 L347.1,438.9 L346.8,447.5 L346.6,456.1 L346.2,464.7 L345.9,473.3 L345.5,481.9 L345.1,490.5 L344.7,499.1 L344.3,507.7 L343.8,516.3 L343.4,524.9 L343.0,533.5 L342.6,542.1 L342.3,550.7 L342.0,559.2 L341.6,567.8 L341.4,576.4 L341.1,585.0 L340.9,593.6 L340.6,602.2 L340.5,610.7 L340.3,619.3 L340.1,627.9 L340.0,636.5 L339.9,645.0 L339.8,653.6 L339.7,662.2 L339.6,670.7 L339.5,679.3 L339.5,687.8 L339.5,696.4 L339.4,705.0 L339.4,713.5 L339.4,722.1 L339.4,730.7 L339.4,739.2 L339.5,747.8 L339.5,756.3 L339.5,764.9 L339.6,773.5 L339.6,782.0 L339.6,790.6 L339.7,799.1 L339.7,807.7 L339.8,816.3 L339.8,824.8 L339.9,833.4 L339.9,842.0 L340.0,850.6 L340.0,859.1 L340.1,867.7 L340.1,876.3 L340.1,884.9 L340.1,893.4 L340.1,902.0 L340.1,910.6 L340.1,919.2 L340.1,927.8 L340.1,936.4 L340.0,945.0 L340.0,953.6 L339.9,962.2 L339.8,970.8 L339.7,979.4 L339.6,988.0"/>
<path d="M290.3,275.3 L294.1,282.5 L297.6,289.9 L300.9,297.3 L304.1,304.7 L307.0,312.3 L309.7,319.9 L312.3,327.6 L314.7,335.3 L316.9,343.1 L318.9,350.9 L320.8,358.8 L322.5,366.7 L324.1,374.6 L325.5,382.6 L326.7,390.6 L327.9,398.5 L328.9,406.6 L329.8,414.6 L330.5,422.6 L331.2,430.6 L331.7,438.7 L332.2,446.7 L332.5,454.8 L332.8,462.9 L333.0,470.9 L333.2,479.0 L333.3,487.1 L333.3,495.2 L333.3,503.2 L333.2,511.3 L333.1,519.4 L333.0,527.5 L332.9,535.6 L332.7,543.7 L332.6,551.8 L332.4,559.9 L332.3,568.0 L332.2,576.0 L332.0,584.1 L331.9,592.2 L331.8,600.3 L331.7,608.4 L331.6,616.4 L331.5,624.5 L331.4,632.6 L331.3,640.7 L331.2,648.8 L331.1,656.8 L331.0,664.9 L331.0,673.0 L330.9,681.0 L330.8,689.1 L330.8,697.2 L330.7,705.3 L330.7,713.3 L330.6,721.4 L330.6,729.5 L330.5,737.5 L330.5,745.6 L330.5,753.7 L330.4,761.8 L330.4,769.8 L330.4,777.9 L330.4,786.0 L330.4,794.0 L330.3,802.1 L330.3,810.2 L330.3,818.3 L330.3,826.3 L330.3,834.4 L330.3,842.5 L330.3,850.6 L330.4,858.6 L330.4,866.7 L330.4,874.8 L330.4,882.9 L330.4,890.9 L330.4,899.0 L330.5,907.1 L330.5,915.2 L330.5,923.3 L330.5,931.4 L330.6,939.4 L330.6,947.5 L330.6,955.6 L330.7,963.7 L330.7,971.8 L330.7,979.9 L330.8,988.0"/>
<path d="M271.6,328.0 L275.4,334.7 L279.0,341.4 L282.4,348.2 L285.7,355.0 L288.8,361.9 L291.7,368.8 L294.5,375.8 L297.2,382.9 L299.7,389.9 L302.0,397.1 L304.2,404.2 L306.3,411.4 L308.3,418.6 L310.0,425.9 L311.7,433.2 L313.3,440.5 L314.7,447.9 L315.9,455.2 L317.1,462.6 L318.1,470.0 L319.1,477.5 L319.9,484.9 L320.6,492.4 L321.2,499.8 L321.8,507.3 L322.2,514.8 L322.6,522.3 L323.0,529.8 L323.3,537.3 L323.5,544.9 L323.7,552.4 L323.9,559.9 L324.0,567.4 L324.2,574.9 L324.3,582.5 L324.4,590.0 L324.4,597.5 L324.5,605.0 L324.5,612.5 L324.5,620.0 L324.5,627.6 L324.5,635.1 L324.5,642.6 L324.4,650.1 L324.4,657.6 L324.3,665.1 L324.3,672.6 L324.2,680.1 L324.1,687.6 L324.0,695.1 L323.9,702.7 L323.8,710.2 L323.7,717.7 L323.5,725.2 L323.4,732.7 L323.3,740.2 L323.2,747.7 L323.0,755.2 L322.9,762.7 L322.8,770.2 L322.7,777.7 L322.6,785.2 L322.4,792.7 L322.3,800.2 L322.2,807.7 L322.1,815.2 L322.0,822.7 L321.9,830.3 L321.9,837.8 L321.8,845.3 L321.8,852.8 L321.7,860.3 L321.7,867.8 L321.7,875.3 L321.7,882.8 L321.7,890.3 L321.7,897.8 L321.8,905.3 L321.8,912.8 L321.9,920.4 L322.0,927.9 L322.1,935.4 L322.3,942.9 L322.5,950.4 L322.6,957.9 L322.9,965.4 L323.1,973.0 L323.4,980.5 L323.7,988.0"/>
<path d="M259.2,379.2 L264.0,384.4 L268.4,389.9 L272.5,395.6 L276.2,401.4 L279.7,407.4 L282.9,413.6 L285.9,419.9 L288.6,426.3 L291.1,432.8 L293.4,439.4 L295.5,446.0 L297.5,452.6 L299.3,459.3 L300.9,466.1 L302.4,472.9 L303.8,479.7 L305.0,486.5 L306.2,493.4 L307.2,500.3 L308.1,507.2 L309.0,514.1 L309.8,521.1 L310.5,528.0 L311.1,535.0 L311.7,542.0 L312.2,549.0 L312.8,555.9 L313.2,562.9 L313.7,569.9 L314.1,576.8 L314.4,583.8 L314.8,590.8 L315.1,597.7 L315.4,604.7 L315.6,611.7 L315.9,618.6 L316.1,625.6 L316.2,632.6 L316.4,639.5 L316.5,646.5 L316.6,653.5 L316.7,660.4 L316.7,667.4 L316.8,674.4 L316.8,681.3 L316.8,688.3 L316.8,695.3 L316.8,702.2 L316.8,709.2 L316.7,716.1 L316.6,723.1 L316.6,730.1 L316.5,737.0 L316.4,744.0 L316.3,751.0 L316.2,757.9 L316.1,764.9 L316.0,771.9 L315.9,778.8 L315.7,785.8 L315.6,792.8 L315.5,799.7 L315.4,806.7 L315.3,813.7 L315.1,820.6 L315.0,827.6 L314.9,834.6 L314.8,841.5 L314.7,848.5 L314.7,855.5 L314.6,862.4 L314.5,869.4 L314.5,876.4 L314.4,883.4 L314.4,890.3 L314.4,897.3 L314.4,904.3 L314.4,911.3 L314.5,918.2 L314.5,925.2 L314.6,932.2 L314.7,939.2 L314.8,946.1 L315.0,953.1 L315.1,960.1 L315.3,967.1 L315.5,974.0 L315.8,981.0 L316.1,988.0"/>
<path d="M253.3,437.3 L258.0,441.5 L262.3,446.0 L266.4,450.7 L270.2,455.7 L273.8,460.9 L277.1,466.4 L280.1,471.9 L283.0,477.6 L285.6,483.5 L288.1,489.4 L290.4,495.3 L292.6,501.3 L294.5,507.4 L296.2,513.5 L297.7,519.6 L299.0,525.8 L300.0,532.1 L300.8,538.3 L301.5,544.6 L302.1,550.9 L302.6,557.2 L303.1,563.5 L303.5,569.8 L303.9,576.1 L304.3,582.5 L304.6,588.8 L304.9,595.1 L305.2,601.4 L305.5,607.7 L305.7,614.1 L306.0,620.4 L306.2,626.7 L306.3,633.1 L306.5,639.4 L306.7,645.7 L306.8,652.1 L306.9,658.4 L307.0,664.7 L307.0,671.1 L307.1,677.4 L307.1,683.7 L307.2,690.1 L307.2,696.4 L307.2,702.8 L307.2,709.1 L307.2,715.4 L307.1,721.8 L307.1,728.1 L307.0,734.5 L307.0,740.8 L306.9,747.2 L306.8,753.5 L306.8,759.8 L306.7,766.2 L306.6,772.5 L306.5,778.9 L306.4,785.2 L306.3,791.6 L306.2,797.9 L306.1,804.3 L306.0,810.6 L305.9,817.0 L305.8,823.3 L305.8,829.6 L305.7,836.0 L305.6,842.3 L305.5,848.7 L305.4,855.0 L305.4,861.4 L305.3,867.7 L305.3,874.0 L305.2,880.4 L305.2,886.7 L305.2,893.1 L305.2,899.4 L305.2,905.7 L305.2,912.1 L305.2,918.4 L305.3,924.7 L305.3,931.1 L305.4,937.4 L305.5,943.7 L305.6,950.1 L305.7,956.4 L305.9,962.7 L306.0,969.0 L306.2,975.4 L306.4,981.7 L306.6,988.0"/>
<path d="M251.9,489.8 L256.3,493.8 L260.3,498.1 L264.0,502.5 L267.3,507.1 L270.4,511.8 L273.2,516.6 L275.7,521.6 L277.9,526.7 L279.9,531.9 L281.7,537.2 L283.3,542.6 L284.7,548.1 L286.0,553.6 L287.1,559.2 L288.0,564.9 L288.9,570.5 L289.7,576.3 L290.4,582.0 L291.0,587.7 L291.6,593.5 L292.1,599.2 L292.7,605.0 L293.1,610.7 L293.6,616.4 L294.0,622.2 L294.4,627.9 L294.8,633.6 L295.1,639.4 L295.4,645.1 L295.7,650.8 L296.0,656.6 L296.2,662.3 L296.4,668.0 L296.6,673.7 L296.8,679.4 L296.9,685.2 L297.1,690.9 L297.2,696.6 L297.3,702.3 L297.3,708.0 L297.4,713.7 L297.4,719.5 L297.4,725.2 L297.5,730.9 L297.4,736.6 L297.4,742.3 L297.4,748.0 L297.4,753.7 L297.3,759.4 L297.2,765.1 L297.2,770.8 L297.1,776.5 L297.0,782.2 L296.9,788.0 L296.8,793.7 L296.7,799.4 L296.6,805.1 L296.5,810.8 L296.4,816.5 L296.3,822.2 L296.2,827.9 L296.1,833.6 L296.0,839.3 L295.9,845.0 L295.8,850.7 L295.8,856.4 L295.7,862.1 L295.6,867.8 L295.5,873.6 L295.5,879.3 L295.4,885.0 L295.4,890.7 L295.3,896.4 L295.3,902.1 L295.3,907.8 L295.3,913.6 L295.3,919.3 L295.4,925.0 L295.4,930.7 L295.5,936.4 L295.6,942.2 L295.7,947.9 L295.8,953.6 L296.0,959.3 L296.1,965.1 L296.3,970.8 L296.5,976.5 L296.8,982.3 L297.0,988.0"/>
  </g>
  <g fill="none" stroke="url(#lg)" stroke-width="4.1" stroke-linecap="round" mask="url(#lm)">
<path d="M364.6,189.1 L365.8,198.1 L366.9,207.0 L367.9,216.0 L368.7,225.0 L369.4,233.9 L370.0,242.9 L370.4,251.9 L370.7,260.8 L371.0,269.8 L371.1,278.8 L371.1,287.7 L371.1,296.7 L370.9,305.6 L370.7,314.6 L370.4,323.6 L370.0,332.5 L369.6,341.5 L369.1,350.4 L368.5,359.4 L367.9,368.3 L367.2,377.3 L366.5,386.3 L365.8,395.2 L365.0,404.2 L364.2,413.1 L363.4,422.1 L362.5,431.1 L361.7,440.0 L360.8,449.0 L360.0,457.9 L359.1,466.9 L358.3,475.9 L357.4,484.8 L356.6,493.8 L355.8,502.8 L355.0,511.7 L354.3,520.7 L353.6,529.7 L353.0,538.6 L352.3,547.6 L351.8,556.6 L351.2,565.6 L350.8,574.5 L350.3,583.5 L349.9,592.5 L349.5,601.5 L349.1,610.4 L348.8,619.4 L348.5,628.4 L348.3,637.4 L348.1,646.4 L347.9,655.3 L347.7,664.3 L347.5,673.3 L347.4,682.3 L347.3,691.3 L347.2,700.3 L347.1,709.3 L347.1,718.2 L347.1,727.2 L347.1,736.2 L347.1,745.2 L347.1,754.2 L347.1,763.2 L347.1,772.2 L347.2,781.2 L347.2,790.2 L347.3,799.2 L347.4,808.1 L347.4,817.1 L347.5,826.1 L347.6,835.1 L347.7,844.1 L347.8,853.1 L347.8,862.1 L347.9,871.1 L348.0,880.1 L348.0,889.1 L348.1,898.1 L348.2,907.1 L348.2,916.1 L348.2,925.1 L348.2,934.1 L348.3,943.0 L348.2,952.0 L348.2,961.0 L348.2,970.0 L348.1,979.0 L348.0,988.0"/>
<path d="M319.0,228.1 L322.3,236.2 L325.3,244.3 L328.1,252.5 L330.6,260.7 L332.9,269.0 L335.0,277.3 L336.8,285.6 L338.5,294.0 L340.0,302.4 L341.3,310.9 L342.5,319.3 L343.5,327.8 L344.4,336.3 L345.2,344.8 L345.8,353.3 L346.3,361.8 L346.7,370.4 L347.1,378.9 L347.3,387.5 L347.4,396.0 L347.5,404.6 L347.5,413.1 L347.4,421.7 L347.3,430.3 L347.1,438.9 L346.8,447.5 L346.6,456.1 L346.2,464.7 L345.9,473.3 L345.5,481.9 L345.1,490.5 L344.7,499.1 L344.3,507.7 L343.8,516.3 L343.4,524.9 L343.0,533.5 L342.6,542.1 L342.3,550.7 L342.0,559.2 L341.6,567.8 L341.4,576.4 L341.1,585.0 L340.9,593.6 L340.6,602.2 L340.5,610.7 L340.3,619.3 L340.1,627.9 L340.0,636.5 L339.9,645.0 L339.8,653.6 L339.7,662.2 L339.6,670.7 L339.5,679.3 L339.5,687.8 L339.5,696.4 L339.4,705.0 L339.4,713.5 L339.4,722.1 L339.4,730.7 L339.4,739.2 L339.5,747.8 L339.5,756.3 L339.5,764.9 L339.6,773.5 L339.6,782.0 L339.6,790.6 L339.7,799.1 L339.7,807.7 L339.8,816.3 L339.8,824.8 L339.9,833.4 L339.9,842.0 L340.0,850.6 L340.0,859.1 L340.1,867.7 L340.1,876.3 L340.1,884.9 L340.1,893.4 L340.1,902.0 L340.1,910.6 L340.1,919.2 L340.1,927.8 L340.1,936.4 L340.0,945.0 L340.0,953.6 L339.9,962.2 L339.8,970.8 L339.7,979.4 L339.6,988.0"/>
<path d="M290.3,275.3 L294.1,282.5 L297.6,289.9 L300.9,297.3 L304.1,304.7 L307.0,312.3 L309.7,319.9 L312.3,327.6 L314.7,335.3 L316.9,343.1 L318.9,350.9 L320.8,358.8 L322.5,366.7 L324.1,374.6 L325.5,382.6 L326.7,390.6 L327.9,398.5 L328.9,406.6 L329.8,414.6 L330.5,422.6 L331.2,430.6 L331.7,438.7 L332.2,446.7 L332.5,454.8 L332.8,462.9 L333.0,470.9 L333.2,479.0 L333.3,487.1 L333.3,495.2 L333.3,503.2 L333.2,511.3 L333.1,519.4 L333.0,527.5 L332.9,535.6 L332.7,543.7 L332.6,551.8 L332.4,559.9 L332.3,568.0 L332.2,576.0 L332.0,584.1 L331.9,592.2 L331.8,600.3 L331.7,608.4 L331.6,616.4 L331.5,624.5 L331.4,632.6 L331.3,640.7 L331.2,648.8 L331.1,656.8 L331.0,664.9 L331.0,673.0 L330.9,681.0 L330.8,689.1 L330.8,697.2 L330.7,705.3 L330.7,713.3 L330.6,721.4 L330.6,729.5 L330.5,737.5 L330.5,745.6 L330.5,753.7 L330.4,761.8 L330.4,769.8 L330.4,777.9 L330.4,786.0 L330.4,794.0 L330.3,802.1 L330.3,810.2 L330.3,818.3 L330.3,826.3 L330.3,834.4 L330.3,842.5 L330.3,850.6 L330.4,858.6 L330.4,866.7 L330.4,874.8 L330.4,882.9 L330.4,890.9 L330.4,899.0 L330.5,907.1 L330.5,915.2 L330.5,923.3 L330.5,931.4 L330.6,939.4 L330.6,947.5 L330.6,955.6 L330.7,963.7 L330.7,971.8 L330.7,979.9 L330.8,988.0"/>
<path d="M271.6,328.0 L275.4,334.7 L279.0,341.4 L282.4,348.2 L285.7,355.0 L288.8,361.9 L291.7,368.8 L294.5,375.8 L297.2,382.9 L299.7,389.9 L302.0,397.1 L304.2,404.2 L306.3,411.4 L308.3,418.6 L310.0,425.9 L311.7,433.2 L313.3,440.5 L314.7,447.9 L315.9,455.2 L317.1,462.6 L318.1,470.0 L319.1,477.5 L319.9,484.9 L320.6,492.4 L321.2,499.8 L321.8,507.3 L322.2,514.8 L322.6,522.3 L323.0,529.8 L323.3,537.3 L323.5,544.9 L323.7,552.4 L323.9,559.9 L324.0,567.4 L324.2,574.9 L324.3,582.5 L324.4,590.0 L324.4,597.5 L324.5,605.0 L324.5,612.5 L324.5,620.0 L324.5,627.6 L324.5,635.1 L324.5,642.6 L324.4,650.1 L324.4,657.6 L324.3,665.1 L324.3,672.6 L324.2,680.1 L324.1,687.6 L324.0,695.1 L323.9,702.7 L323.8,710.2 L323.7,717.7 L323.5,725.2 L323.4,732.7 L323.3,740.2 L323.2,747.7 L323.0,755.2 L322.9,762.7 L322.8,770.2 L322.7,777.7 L322.6,785.2 L322.4,792.7 L322.3,800.2 L322.2,807.7 L322.1,815.2 L322.0,822.7 L321.9,830.3 L321.9,837.8 L321.8,845.3 L321.8,852.8 L321.7,860.3 L321.7,867.8 L321.7,875.3 L321.7,882.8 L321.7,890.3 L321.7,897.8 L321.8,905.3 L321.8,912.8 L321.9,920.4 L322.0,927.9 L322.1,935.4 L322.3,942.9 L322.5,950.4 L322.6,957.9 L322.9,965.4 L323.1,973.0 L323.4,980.5 L323.7,988.0"/>
<path d="M259.2,379.2 L264.0,384.4 L268.4,389.9 L272.5,395.6 L276.2,401.4 L279.7,407.4 L282.9,413.6 L285.9,419.9 L288.6,426.3 L291.1,432.8 L293.4,439.4 L295.5,446.0 L297.5,452.6 L299.3,459.3 L300.9,466.1 L302.4,472.9 L303.8,479.7 L305.0,486.5 L306.2,493.4 L307.2,500.3 L308.1,507.2 L309.0,514.1 L309.8,521.1 L310.5,528.0 L311.1,535.0 L311.7,542.0 L312.2,549.0 L312.8,555.9 L313.2,562.9 L313.7,569.9 L314.1,576.8 L314.4,583.8 L314.8,590.8 L315.1,597.7 L315.4,604.7 L315.6,611.7 L315.9,618.6 L316.1,625.6 L316.2,632.6 L316.4,639.5 L316.5,646.5 L316.6,653.5 L316.7,660.4 L316.7,667.4 L316.8,674.4 L316.8,681.3 L316.8,688.3 L316.8,695.3 L316.8,702.2 L316.8,709.2 L316.7,716.1 L316.6,723.1 L316.6,730.1 L316.5,737.0 L316.4,744.0 L316.3,751.0 L316.2,757.9 L316.1,764.9 L316.0,771.9 L315.9,778.8 L315.7,785.8 L315.6,792.8 L315.5,799.7 L315.4,806.7 L315.3,813.7 L315.1,820.6 L315.0,827.6 L314.9,834.6 L314.8,841.5 L314.7,848.5 L314.7,855.5 L314.6,862.4 L314.5,869.4 L314.5,876.4 L314.4,883.4 L314.4,890.3 L314.4,897.3 L314.4,904.3 L314.4,911.3 L314.5,918.2 L314.5,925.2 L314.6,932.2 L314.7,939.2 L314.8,946.1 L315.0,953.1 L315.1,960.1 L315.3,967.1 L315.5,974.0 L315.8,981.0 L316.1,988.0"/>
<path d="M253.3,437.3 L258.0,441.5 L262.3,446.0 L266.4,450.7 L270.2,455.7 L273.8,460.9 L277.1,466.4 L280.1,471.9 L283.0,477.6 L285.6,483.5 L288.1,489.4 L290.4,495.3 L292.6,501.3 L294.5,507.4 L296.2,513.5 L297.7,519.6 L299.0,525.8 L300.0,532.1 L300.8,538.3 L301.5,544.6 L302.1,550.9 L302.6,557.2 L303.1,563.5 L303.5,569.8 L303.9,576.1 L304.3,582.5 L304.6,588.8 L304.9,595.1 L305.2,601.4 L305.5,607.7 L305.7,614.1 L306.0,620.4 L306.2,626.7 L306.3,633.1 L306.5,639.4 L306.7,645.7 L306.8,652.1 L306.9,658.4 L307.0,664.7 L307.0,671.1 L307.1,677.4 L307.1,683.7 L307.2,690.1 L307.2,696.4 L307.2,702.8 L307.2,709.1 L307.2,715.4 L307.1,721.8 L307.1,728.1 L307.0,734.5 L307.0,740.8 L306.9,747.2 L306.8,753.5 L306.8,759.8 L306.7,766.2 L306.6,772.5 L306.5,778.9 L306.4,785.2 L306.3,791.6 L306.2,797.9 L306.1,804.3 L306.0,810.6 L305.9,817.0 L305.8,823.3 L305.8,829.6 L305.7,836.0 L305.6,842.3 L305.5,848.7 L305.4,855.0 L305.4,861.4 L305.3,867.7 L305.3,874.0 L305.2,880.4 L305.2,886.7 L305.2,893.1 L305.2,899.4 L305.2,905.7 L305.2,912.1 L305.2,918.4 L305.3,924.7 L305.3,931.1 L305.4,937.4 L305.5,943.7 L305.6,950.1 L305.7,956.4 L305.9,962.7 L306.0,969.0 L306.2,975.4 L306.4,981.7 L306.6,988.0"/>
<path d="M251.9,489.8 L256.3,493.8 L260.3,498.1 L264.0,502.5 L267.3,507.1 L270.4,511.8 L273.2,516.6 L275.7,521.6 L277.9,526.7 L279.9,531.9 L281.7,537.2 L283.3,542.6 L284.7,548.1 L286.0,553.6 L287.1,559.2 L288.0,564.9 L288.9,570.5 L289.7,576.3 L290.4,582.0 L291.0,587.7 L291.6,593.5 L292.1,599.2 L292.7,605.0 L293.1,610.7 L293.6,616.4 L294.0,622.2 L294.4,627.9 L294.8,633.6 L295.1,639.4 L295.4,645.1 L295.7,650.8 L296.0,656.6 L296.2,662.3 L296.4,668.0 L296.6,673.7 L296.8,679.4 L296.9,685.2 L297.1,690.9 L297.2,696.6 L297.3,702.3 L297.3,708.0 L297.4,713.7 L297.4,719.5 L297.4,725.2 L297.5,730.9 L297.4,736.6 L297.4,742.3 L297.4,748.0 L297.4,753.7 L297.3,759.4 L297.2,765.1 L297.2,770.8 L297.1,776.5 L297.0,782.2 L296.9,788.0 L296.8,793.7 L296.7,799.4 L296.6,805.1 L296.5,810.8 L296.4,816.5 L296.3,822.2 L296.2,827.9 L296.1,833.6 L296.0,839.3 L295.9,845.0 L295.8,850.7 L295.8,856.4 L295.7,862.1 L295.6,867.8 L295.5,873.6 L295.5,879.3 L295.4,885.0 L295.4,890.7 L295.3,896.4 L295.3,902.1 L295.3,907.8 L295.3,913.6 L295.3,919.3 L295.4,925.0 L295.4,930.7 L295.5,936.4 L295.6,942.2 L295.7,947.9 L295.8,953.6 L296.0,959.3 L296.1,965.1 L296.3,970.8 L296.5,976.5 L296.8,982.3 L297.0,988.0"/>
  </g></g>
<use href="#left" transform="translate(836.4,0) scale(-1,1)"/>
<g id="icon"><ellipse cx="323.5" cy="898.6" rx="41.5" ry="38.7" fill="#d5de22" stroke="#221c19" stroke-width="4"/><path d="M324.76,874.63 A24,24 0 0 1 346.98,903.59" fill="none" stroke="#221c19" stroke-width="4.8"/><path d="M320.16,922.37 A24,24 0 0 1 299.56,896.93" fill="none" stroke="#221c19" stroke-width="4.8"/><path d="M343.5,913.6 L353.5,907 L343,902.3 Z" fill="#221c19"/><path d="M302.3,887.4 L293,895.4 L304,898.4 Z" fill="#221c19"/></g>
<use href="#icon" transform="translate(836.4,0) scale(-1,1)"/>
<g font-family="Liberation Sans">
<text x="714.96 740.37 765.06 788.88 812.15 836.38 860.00 873.95 898.65 915.00 931.56 956.27 967.47 980.39 1005.77 1030.61" y="227.7" font-size="32" font-weight="bold" fill="#111">Phases of Flight</text>
<text x="718.8" y="349.7" font-size="24.5" font-weight="normal" fill="#151515" textLength="311.9" lengthAdjust="spacingAndGlyphs">Forward fade at spindown</text>
<text x="788.2" y="473.2" font-size="32.5" font-weight="normal" fill="#151515" textLength="281.4" lengthAdjust="spacingAndGlyphs" stroke="#151515" stroke-width="0.5">Aerodynamic Fade</text>
<text x="718.0" y="528.8" font-size="24.5" font-weight="normal" fill="#151515" textLength="239.6" lengthAdjust="spacingAndGlyphs">Disc pulls out of turn</text>
<text x="718.0" y="559.6" font-size="24.5" font-weight="normal" fill="#151515" textLength="207.1" lengthAdjust="spacingAndGlyphs">as spin decreases</text>
<text x="788.2" y="660.5" font-size="32.5" font-weight="normal" fill="#151515" textLength="270.8" lengthAdjust="spacingAndGlyphs" stroke="#151515" stroke-width="0.5">Aerodynamic Turn</text>
<text x="718.8" y="716.1" font-size="24.5" font-weight="normal" fill="#151515" textLength="240.2" lengthAdjust="spacingAndGlyphs">Aerodynamic profile</text>
<text x="717.6" y="747.2" font-size="24.5" font-weight="normal" fill="#151515" textLength="239.1" lengthAdjust="spacingAndGlyphs">turns disc during the</text>
<text x="717.6" y="777.5" font-size="24.5" font-weight="normal" fill="#151515" textLength="257.7" lengthAdjust="spacingAndGlyphs">late high-speed phase</text>
<text x="718.1" y="939.2" font-size="24.5" font-weight="normal" fill="#151515" textLength="261.9" lengthAdjust="spacingAndGlyphs">Inertia carries the disc</text>
<text x="718.1" y="969.5" font-size="24.5" font-weight="normal" fill="#151515" textLength="250.2" lengthAdjust="spacingAndGlyphs">forward during initial</text>
<text x="718.1" y="1001.0" font-size="24.5" font-weight="normal" fill="#151515" textLength="204.8" lengthAdjust="spacingAndGlyphs">high-speed phase</text>
<text x="787.3" y="301.8" font-size="33.0" font-weight="normal" fill="#151515" textLength="95.6" lengthAdjust="spacingAndGlyphs" stroke="#151515" stroke-width="0.5">GYRO</text>
<text x="879.5" y="284.8" font-size="18.4" font-weight="bold" fill="#151515">®</text>
<text x="903.7" y="301.8" font-size="33.0" font-weight="normal" fill="#151515" textLength="73.7" lengthAdjust="spacingAndGlyphs" stroke="#151515" stroke-width="0.5">Fade</text>
<text x="787.0" y="886.7" font-size="32.5" font-weight="normal" fill="#151515" textLength="92.0" lengthAdjust="spacingAndGlyphs" stroke="#151515" stroke-width="0.5">GYRO</text>
<text x="879" y="870.3" font-size="18.4" font-weight="bold" fill="#151515">®</text>
<text x="903.2" y="886.7" font-size="32.5" font-weight="normal" fill="#151515" textLength="66.8" lengthAdjust="spacingAndGlyphs" stroke="#151515" stroke-width="0.5">Push</text>
<text x="208.7" y="929.0" font-size="23.0" font-weight="normal" fill="#151515" textLength="59.6" lengthAdjust="spacingAndGlyphs">RHBH</text>
<text x="208.7" y="953.7" font-size="23.0" font-weight="normal" fill="#151515" textLength="56.9" lengthAdjust="spacingAndGlyphs">LHFH</text>
<text x="567.7" y="929.0" font-size="23.0" font-weight="normal" fill="#151515" textLength="58.2" lengthAdjust="spacingAndGlyphs">LHBH</text>
<text x="567.7" y="953.7" font-size="23.0" font-weight="normal" fill="#151515" textLength="58.2" lengthAdjust="spacingAndGlyphs">RHFH</text>
<text x="289.5" y="1070.4" font-size="23.5" font-weight="normal" fill="#151515" textLength="123.0" lengthAdjust="spacingAndGlyphs">Power Level</text>
<text x="476.7" y="1071.7" font-size="23.0" font-weight="normal" fill="#151515" textLength="154.9" lengthAdjust="spacingAndGlyphs">Direction of Spin</text>
</g>
<g fill="none" stroke="#4a4a4a" stroke-width="6">
<path d="M147.5,128 C145,125.5 142.5,124.9 139.8,124.9 C134.5,124.9 132.75,134 132.75,144.75 C132.75,155.5 134.5,164.6 139.8,164.6 C142.5,164.6 145,164 147.5,161.5"/>
<path d="M156.5,167.6 L156.5,124.9 L162.5,124.9 C168,124.9 169.5,130 169.5,135 C169.5,140.5 167,145.2 162,145.2 L156.5,145.2"/>
</g>
<g fill="#4a4a4a">
<path d="M160.5,145.5 L166.8,145.5 L173.8,167.6 L166.8,167.6 Z"/>
<path d="M175.8,167.6 L184,121.9 L191.6,121.9 L199.8,167.6 L193.7,167.6 L187.8,131 L181.8,167.6 Z"/>
<rect x="180.5" y="155.6" width="14.5" height="4.3"/>
<path d="M199,121.9 L205.4,121.9 L210.4,157 L214.6,121.9 L220.9,121.9 L214.3,167.6 L205.8,167.6 Z"/>
<rect x="224.2" y="121.9" width="5.8" height="45.7"/>
<rect x="224.2" y="121.9" width="16.3" height="5.4"/>
<rect x="224.2" y="142.5" width="15" height="4.9"/>
<rect x="224.2" y="162.4" width="16.3" height="5.2"/>
</g>
<g><rect x="719.2" y="262.2" width="47.1" height="49.2" fill="#fff" filter="url(#sh)"/><rect x="722.2" y="265.2" width="41.1" height="43.2" fill="#97d7ef"/><rect x="716.9" y="434.2" width="48.0" height="49.1" fill="#fff" filter="url(#sh)"/><rect x="719.9" y="437.2" width="42.0" height="43.1" fill="#f2e825"/><rect x="721.3" y="625.4" width="47.4" height="49.2" fill="#fff" filter="url(#sh)"/><rect x="724.3" y="628.4" width="41.4" height="43.2" fill="#de2027"/><rect x="721.6" y="849.2" width="46.8" height="49.1" fill="#fff" filter="url(#sh)"/><rect x="724.6" y="852.2" width="40.8" height="43.1" fill="#231f20"/></g>
<g fill="#1e1e1e">
<rect x="262.1" y="1030.5" width="3.5" height="36.1"/>
<rect x="262.1" y="1030.5" width="12.7" height="2.9"/>
<rect x="262.1" y="1063.2" width="16.7" height="3.4"/>
<rect x="448.4" y="891" width="3.9" height="177"/>
<rect x="448.4" y="891" width="11.8" height="3.4"/>
<rect x="448.4" y="1063.6" width="17.4" height="3.9"/>
<rect x="294.4" y="1031.9" width="3.9" height="11.3"/>
<rect x="304.9" y="1028" width="3.9" height="15.2"/>
<rect x="315.2" y="1024.1" width="3.9" height="19.1"/>
<rect x="325.6" y="1020.3" width="4.1" height="22.9"/>
<rect x="336" y="1016.3" width="4.2" height="26.9"/>
<rect x="346.4" y="1012.8" width="4.2" height="30.4"/>
<rect x="486.3" y="1012.5" width="3.8" height="30.8"/>
<rect x="496.7" y="1016.3" width="3.8" height="27"/>
<rect x="507.2" y="1020" width="4" height="23.3"/>
<rect x="517.5" y="1024.2" width="4.1" height="19.1"/>
<rect x="528" y="1028" width="4" height="15.3"/>
<rect x="538.3" y="1031.7" width="4.2" height="11.6"/>
</g>

</svg>
</body></html>
